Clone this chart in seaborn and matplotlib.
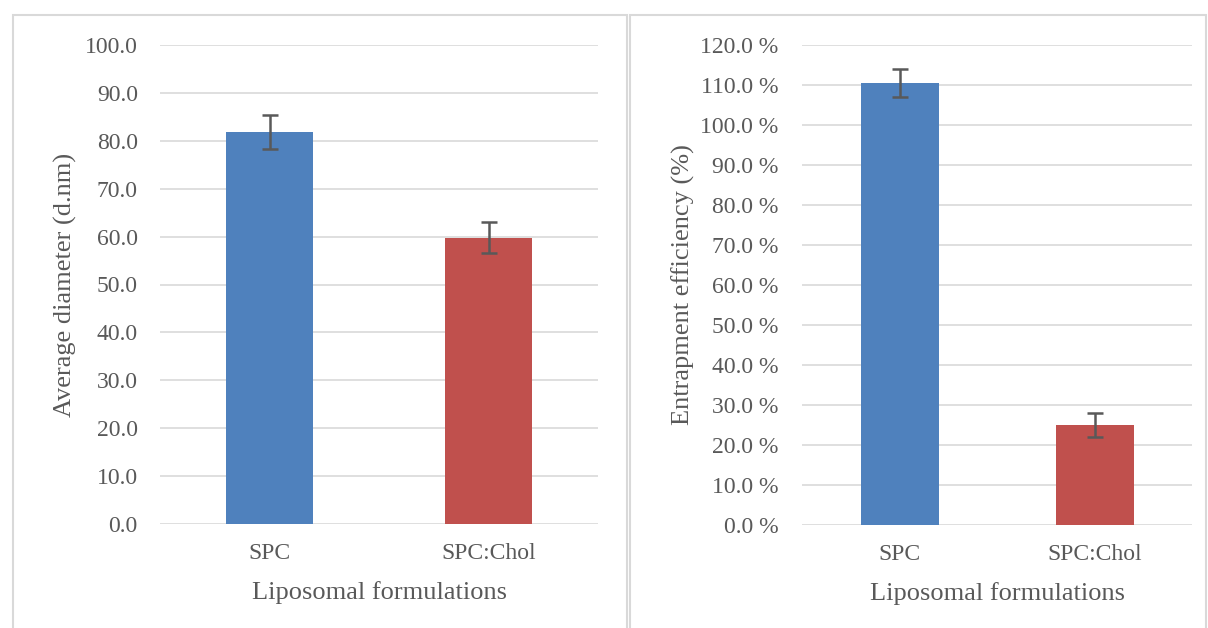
import matplotlib.pyplot as plt
import seaborn as sns
import pandas as pd
from matplotlib.patches import Rectangle
from matplotlib.ticker import FuncFormatter

# Values
formulations = ['SPC', 'SPC:Chol']
diameter = [81.8, 59.8]
diameter_err = [3.5, 3.3]
entrapment = [110.4, 25.0]
entrapment_err = [3.5, 3.1]
bar_colors = ['#4F81BD', '#C0504D']

sns.set_theme(style='white')
plt.rcParams['font.family'] = ['Liberation Serif', 'DejaVu Serif']

text_color = '#595959'
grid_color = '#D9D9D9'

fig = plt.figure(figsize=(12.08, 6.28), dpi=100)

# light gray frames around each chart, as in the Excel original
for x0, x1 in [(13, 627), (630, 1206)]:
    fig.patches.append(Rectangle((x0 / 1208, -0.01), (x1 - x0) / 1208, (628 - 15) / 628 + 0.01,
                                 transform=fig.transFigure, fill=False,
                                 edgecolor='#D9D9D9', linewidth=1.5))

ax1 = fig.add_axes([160 / 1208, 104 / 628, 438 / 1208, 479 / 628])
ax2 = fig.add_axes([802 / 1208, 103 / 628, 390 / 1208, 480 / 628])


def draw_panel(ax, values, errors, ymax, step, ylabel, fmt, ypad, ylabelpad):
    df = pd.DataFrame({'formulation': formulations, 'value': values})
    sns.barplot(data=df, x='formulation', y='value', hue='formulation',
                palette=bar_colors, saturation=1, width=0.4, linewidth=0,
                legend=False, ax=ax, zorder=2)
    ax.errorbar(range(len(values)), values, yerr=errors, fmt='none',
                ecolor='#595959', elinewidth=1.8, capsize=6, capthick=1.8, zorder=3)
    ax.set_xlim(-0.5, len(values) - 0.5)
    ax.set_ylim(0, ymax)
    ax.set_yticks([i * step for i in range(int(round(ymax / step)) + 1)])
    ax.yaxis.set_major_formatter(FuncFormatter(fmt))
    ax.grid(axis='y', color=grid_color, linewidth=1.2, zorder=0)
    ax.set_axisbelow(True)
    for s in ax.spines.values():
        s.set_visible(False)
    ax.tick_params(axis='both', length=0, labelsize=17, colors=text_color)
    ax.tick_params(axis='x', pad=14)
    ax.tick_params(axis='y', pad=ypad)
    ax.set_xlabel('Liposomal formulations', fontsize=19, color=text_color, labelpad=12)
    ax.set_ylabel(ylabel, fontsize=19, color=text_color, labelpad=ylabelpad)


draw_panel(ax1, diameter, diameter_err, 100, 10, 'Average diameter (d.nm)',
           lambda v, p: f'{v:.1f}', 16, 6)
draw_panel(ax2, entrapment, entrapment_err, 120, 10, 'Entrapment efficiency (%)',
           lambda v, p: f'{v:.1f} %', 17, 4)

fig.savefig('out.png', dpi=100)
